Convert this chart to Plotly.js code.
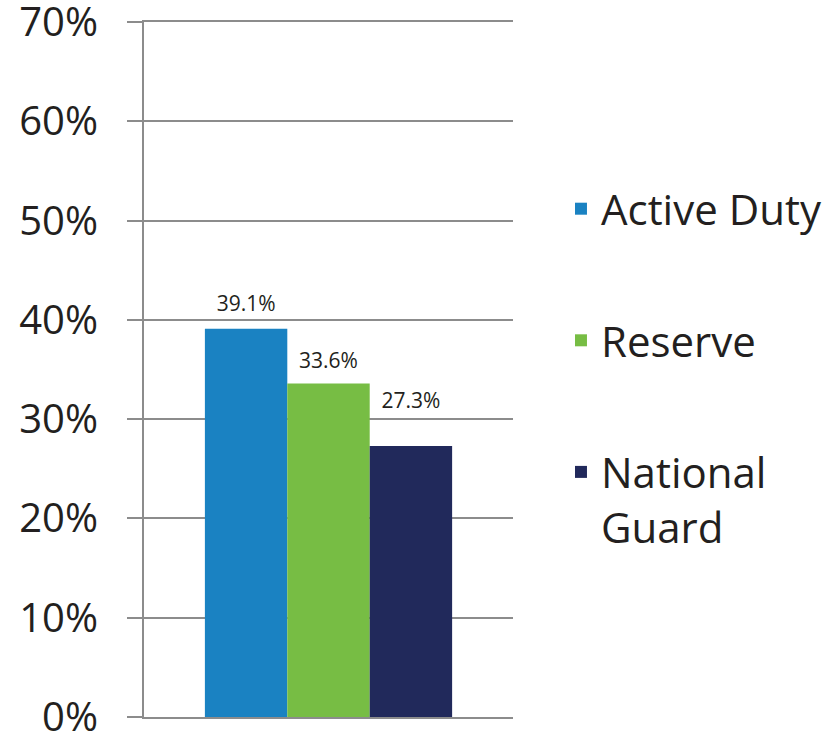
<!DOCTYPE html>
<html>
<head>
<meta charset="utf-8">
<script src="https://cdn.plot.ly/plotly-3.0.1.min.js"></script>
<style>html,body{margin:0;padding:0;background:#fff;}#chart{width:839px;height:734px;}</style>
</head>
<body>
<div id="chart"></div>
<script>
var category = [""];
var seriesNames = ["Active Duty", "Reserve", "National<br>Guard"];
var seriesValues = [39.1, 33.6, 27.3];
var seriesColors = ["#1a82c2", "#77bd44", "#21295b"];
var labelGaps = [18, 14, 50];
var yTickVals = [0, 10, 20, 30, 40, 50, 60, 70];
var yTickText = ["0%", "10%", "20%", "30%", "40%", "50%", "60%", "70%"];

var traces = seriesNames.map(function (name, i) {
  return {
    type: "bar",
    name: name,
    legendgroup: "g" + i,
    offsetgroup: "g" + i,
    x: category,
    y: [seriesValues[i]],
    marker: { color: seriesColors[i] },
    hoverinfo: "skip"
  };
});

var labelTraces = seriesNames.map(function (name, i) {
  return {
    type: "scatter",
    mode: "markers+text",
    name: name + " label",
    showlegend: false,
    offsetgroup: "g" + i,
    x: category,
    y: [seriesValues[i]],
    marker: { size: labelGaps[i], opacity: 0, color: seriesColors[i] },
    text: [seriesValues[i].toFixed(1) + "%"],
    textposition: "top center",
    cliponaxis: false,
    textfont: { family: "Open Sans", size: 21, color: "#231f20" },
    hoverinfo: "skip"
  };
});

var layout = {
  width: 839,
  height: 734,
  margin: { l: 144, r: 326, t: 22, b: 17 },
  paper_bgcolor: "#fff",
  plot_bgcolor: "#fff",
  barmode: "group",
  bargap: 0.33,
  bargroupgap: 0,
  scattermode: "group",
  scattergap: 0.33,
  font: { family: "Open Sans", color: "#231f20" },
  xaxis: {
    showticklabels: false,
    showgrid: false,
    zeroline: false,
    showline: true,
    mirror: true,
    linecolor: "#8c8c8c",
    linewidth: 2,
    ticks: ""
  },
  yaxis: {
    range: [0, 70],
    tickvals: yTickVals,
    ticktext: yTickText,
    showgrid: true,
    gridcolor: "#8c8c8c",
    gridwidth: 2,
    zeroline: false,
    showline: true,
    linecolor: "#8c8c8c",
    linewidth: 2,
    ticks: "outside",
    ticklen: 15,
    tickwidth: 2,
    tickcolor: "#8c8c8c",
    ticklabelstandoff: 21,
    ticklabeloverflow: "allow",
    tickfont: { family: "Open Sans", size: 40, color: "#231f20" }
  },
  showlegend: true,
  legend: {
    x: 1.13,
    xanchor: "left",
    y: 0.78,
    yanchor: "top",
    traceorder: "grouped",
    tracegroupgap: 74,
    valign: "top",
    font: { family: "Open Sans", size: 42, color: "#231f20" },
    bgcolor: "rgba(0,0,0,0)"
  }
};

Plotly.newPlot("chart", traces.concat(labelTraces), layout, { staticPlot: true, displayModeBar: false });
</script>
</body>
</html>
